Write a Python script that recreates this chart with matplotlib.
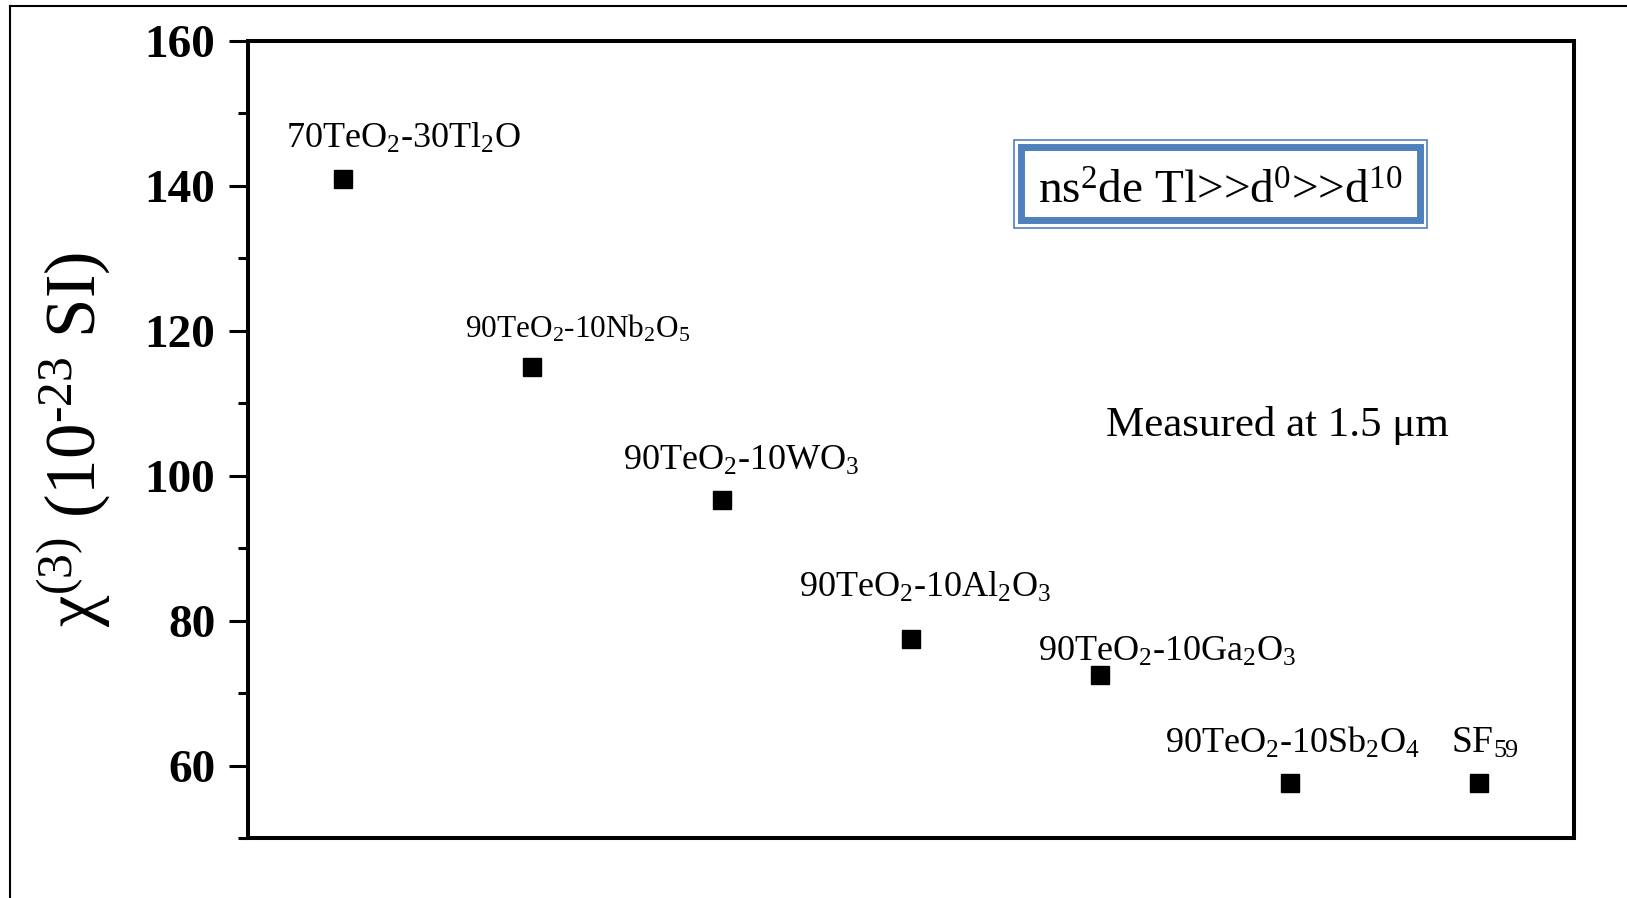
import numpy as np
import matplotlib
matplotlib.use("Agg")
import matplotlib.pyplot as plt
from matplotlib.patches import Rectangle
from matplotlib.lines import Line2D

# glass compositions and their chi(3)
samples = [
    r"70TeO$_2$-30Tl$_2$O",
    r"90TeO$_2$-10Nb$_2$O$_5$",
    r"90TeO$_2$-10WO$_3$",
    r"90TeO$_2$-10Al$_2$O$_3$",
    r"90TeO$_2$-10Ga$_2$O$_3$",
    r"90TeO$_2$-10Sb$_2$O$_4$",
    r"SF$_{59}$",
]
chi3 = [140.9, 115.0, 96.7, 77.5, 72.5, 57.6, 57.6]
yticks = [60, 80, 100, 120, 140, 160]

# where each label sits relative to its point (pixels: left edge, baseline)
label_dx = [-57, -67, -99, -112, -62, -125, -28]
label_dy = [31, 30, 30, 42, 14, 30, 30]
label_size = [26, 22.5, 26, 26, 26, 26, 27]

plt.rcParams["font.family"] = ["Liberation Serif", "DejaVu Serif"]
plt.rcParams["mathtext.fontset"] = "custom"
plt.rcParams["mathtext.rm"] = "Liberation Serif"
plt.rcParams["mathtext.it"] = "Liberation Serif:italic"
plt.rcParams["mathtext.bf"] = "Liberation Serif:bold"
plt.rcParams["mathtext.default"] = "regular"

fig = plt.figure(figsize=(16.27, 8.98), dpi=100)
ax = fig.add_axes([248 / 1627, 1 - 838 / 898, (1574 - 248) / 1627, (838 - 41) / 898])

x = np.arange(1, len(chi3) + 1)
ax.plot(x, chi3, "s", color="black", markersize=13)

for i, (lab, xv, yv) in enumerate(zip(samples, x, chi3)):
    ax.annotate(lab, (xv, yv), xytext=(label_dx[i], label_dy[i]),
                textcoords="offset pixels", ha="left", va="baseline",
                fontsize=label_size[i])

ax.set_xlim(0.5, len(chi3) + 0.5)
ax.set_ylim(50, 160)
ax.set_xticks([])
ax.set_yticks(yticks)
ax.set_yticks(np.arange(50, 161, 10), minor=True)
for lbl in ax.get_yticklabels():
    lbl.set_fontweight("bold")
ax.tick_params(axis="y", which="major", length=13.5, width=2.2,
               labelsize=34, pad=10, direction="out")
ax.tick_params(axis="y", which="minor", length=7, width=2.2, direction="out")
for s in ax.spines.values():
    s.set_linewidth(2.9)

ax.set_ylabel(r"χ$^{(3)}$ (10$^{\text{-23}}$ SI)", fontsize=51, labelpad=23)

ax.text(0.647, 0.518, "Measured at 1.5 μm", transform=ax.transAxes,
        ha="left", va="center", fontsize=31)

# double-framed note box
W, H = 1627, 898
fig.patches.append(Rectangle((1014 / W, 1 - 227.7 / H), (1427 - 1014) / W,
                             (227.7 - 140) / H, transform=fig.transFigure,
                             fill=False, edgecolor="#4F81BD", linewidth=1.2))
fig.patches.append(Rectangle((1021.5 / W, 1 - 220 / H), (1419.7 - 1021.5) / W,
                             (220 - 147) / H, transform=fig.transFigure,
                             fill=False, edgecolor="#4F81BD", linewidth=5))
fig.text(1220 / W, 1 - 204 / H, r"ns$^2$de Tl>>d$^0$>>d$^{10}$",
         ha="center", va="baseline", fontsize=34)

# outer frame (left and top edges visible)
fig.add_artist(Line2D([10 / W, 10 / W], [0, 1 - 6 / H], color="black", linewidth=1.5))
fig.add_artist(Line2D([10 / W, 1], [1 - 6 / H, 1 - 6 / H], color="black", linewidth=1.5))

fig.savefig("out.png", dpi=100)
